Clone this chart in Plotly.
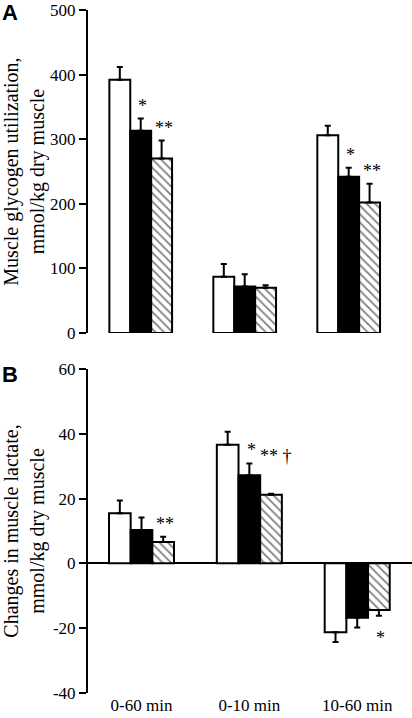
import plotly.graph_objects as go

periods = ["0-60 min", "0-10 min", "10-60 min"]

# Panel A: muscle glycogen utilization (mmol/kg dry muscle)
glyc_ticks = [0, 100, 200, 300, 400, 500]
glyc_open = [392, 87, 306]
glyc_open_err = [20, 20, 15]
glyc_solid = [313, 72, 242]
glyc_solid_err = [19, 19, 14]
glyc_hatch = [270, 70, 202]
glyc_hatch_err = [28, 4, 29]
glyc_sig_solid = ["*", "", "*"]
glyc_sig_hatch = ["**", "", "**"]

# Panel B: changes in muscle lactate (mmol/kg dry muscle)
lac_ticks = [-40, -20, 0, 20, 40, 60]
lac_open = [15.5, 36.7, -21.3]
lac_open_err = [3.9, 4.0, 3.0]
lac_solid = [10.3, 27.2, -16.8]
lac_solid_err = [3.9, 3.7, 3.0]
lac_hatch = [6.6, 21.2, -14.4]
lac_hatch_err = [1.6, 0.3, 1.8]
lac_sig_solid = ["", "*", ""]
lac_sig_hatch = ["**", "** †", "*"]

SERIF = "Liberation Serif"
BARGAP = 0.397
BW = (1 - BARGAP) / 3

styles = [
    dict(color="white", pattern=None),
    dict(color="black", pattern=None),
    dict(color="white", pattern=dict(shape="\\", fgcolor="black", bgcolor="white", size=6, solidity=0.3)),
]

fig = go.Figure()


def add_panel(vals_list, errs_list, xa, ya):
    for i, (vals, errs) in enumerate(zip(vals_list, errs_list)):
        up = [e if v >= 0 else 0 for v, e in zip(vals, errs)]
        down = [e if v < 0 else 0 for v, e in zip(vals, errs)]
        marker = dict(color=styles[i]["color"], line=dict(color="black", width=2))
        if styles[i]["pattern"]:
            marker["pattern"] = styles[i]["pattern"]
        fig.add_trace(go.Bar(
            x=periods, y=vals, xaxis=xa, yaxis=ya, marker=marker,
            error_y=dict(type="data", symmetric=False, array=up, arrayminus=down,
                         color="black", thickness=2, width=3),
            showlegend=False, offsetgroup=str(i), hoverinfo="skip",
        ))


add_panel([glyc_open, glyc_solid, glyc_hatch],
          [glyc_open_err, glyc_solid_err, glyc_hatch_err], "x", "y")
add_panel([lac_open, lac_solid, lac_hatch],
          [lac_open_err, lac_solid_err, lac_hatch_err], "x2", "y2")

annos = []


def add_sig(labels, vals, errs, series_idx, xref, yref):
    for g, (t, v, e) in enumerate(zip(labels, vals, errs)):
        if not t:
            continue
        pos = v >= 0
        shift = 13 if pos else -22
        dx = 2
        if "†" in t:
            shift, dx = 38, 5
        annos.append(dict(
            x=g + (series_idx - 1) * BW, y=(v + e) if pos else (v - e),
            xref=xref, yref=yref, text=t, showarrow=False,
            font=dict(family=SERIF, size=18, color="black"),
            yanchor="middle", xanchor="center",
            yshift=shift, xshift=dx,
        ))


add_sig(glyc_sig_solid, glyc_solid, glyc_solid_err, 1, "x", "y")
add_sig(glyc_sig_hatch, glyc_hatch, glyc_hatch_err, 2, "x", "y")
add_sig(lac_sig_solid, lac_solid, lac_solid_err, 1, "x2", "y2")
add_sig(lac_sig_hatch, lac_hatch, lac_hatch_err, 2, "x2", "y2")

annos.append(dict(x=0.0, y=1.0, xref="paper", yref="paper", text="A", showarrow=False,
                  xanchor="left", yanchor="top", xshift=0, yshift=2,
                  font=dict(family="Liberation Sans", size=22, color="black", weight="bold")))
annos.append(dict(x=0.0, y=0.5, xref="paper", yref="paper", text="B", showarrow=False,
                  xanchor="left", yanchor="top", xshift=0, yshift=-1,
                  font=dict(family="Liberation Sans", size=22, color="black", weight="bold")))

yaxis_common = dict(
    showline=True, linecolor="black", linewidth=2, ticks="outside", ticklen=7,
    tickwidth=2, tickcolor="black", showgrid=False, automargin=False,
    tickfont=dict(family=SERIF, size=17, color="black"),
)

fig.update_layout(
    width=412, height=718, margin=dict(l=0, r=0, t=0, b=0, pad=0),
    paper_bgcolor="white", plot_bgcolor="white",
    barmode="group", bargap=BARGAP, bargroupgap=0,
    annotations=annos,
    xaxis=dict(domain=[88 / 412, 1], range=[-0.507, 2.609], type="category",
               categoryarray=periods, showticklabels=False, showline=False,
               showgrid=False, zeroline=False, ticks="", anchor="y", automargin=False),
    yaxis=dict(domain=[0.5362, 0.986], range=[0, 500], tickvals=glyc_ticks,
               ticktext=[str(t) for t in glyc_ticks],
               zeroline=False, anchor="x",
               title=dict(text="Muscle glycogen utilization,<br>mmol/kg dry muscle",
                          font=dict(family=SERIF, size=20, color="black"), standoff=6),
               **yaxis_common),
    xaxis2=dict(domain=[88 / 412, 1], range=[-0.496, 2.508], type="category",
                categoryarray=periods, showline=False, showgrid=False, zeroline=False,
                ticks="", anchor="y2", automargin=False,
                tickfont=dict(family=SERIF, size=17, color="black")),
    yaxis2=dict(domain=[0.0352, 0.4857], range=[-40, 60], tickvals=lac_ticks,
                ticktext=[str(t) for t in lac_ticks],
                zeroline=True, zerolinecolor="black", zerolinewidth=2, anchor="x2",
                title=dict(text="Changes in muscle lactate,<br>mmol/kg dry muscle",
                           font=dict(family=SERIF, size=20, color="black"), standoff=6),
                **yaxis_common),
)

fig.write_html("out.html", config={"displayModeBar": False},
               post_script="document.body.style.margin='0';document.body.style.overflow='hidden';")
